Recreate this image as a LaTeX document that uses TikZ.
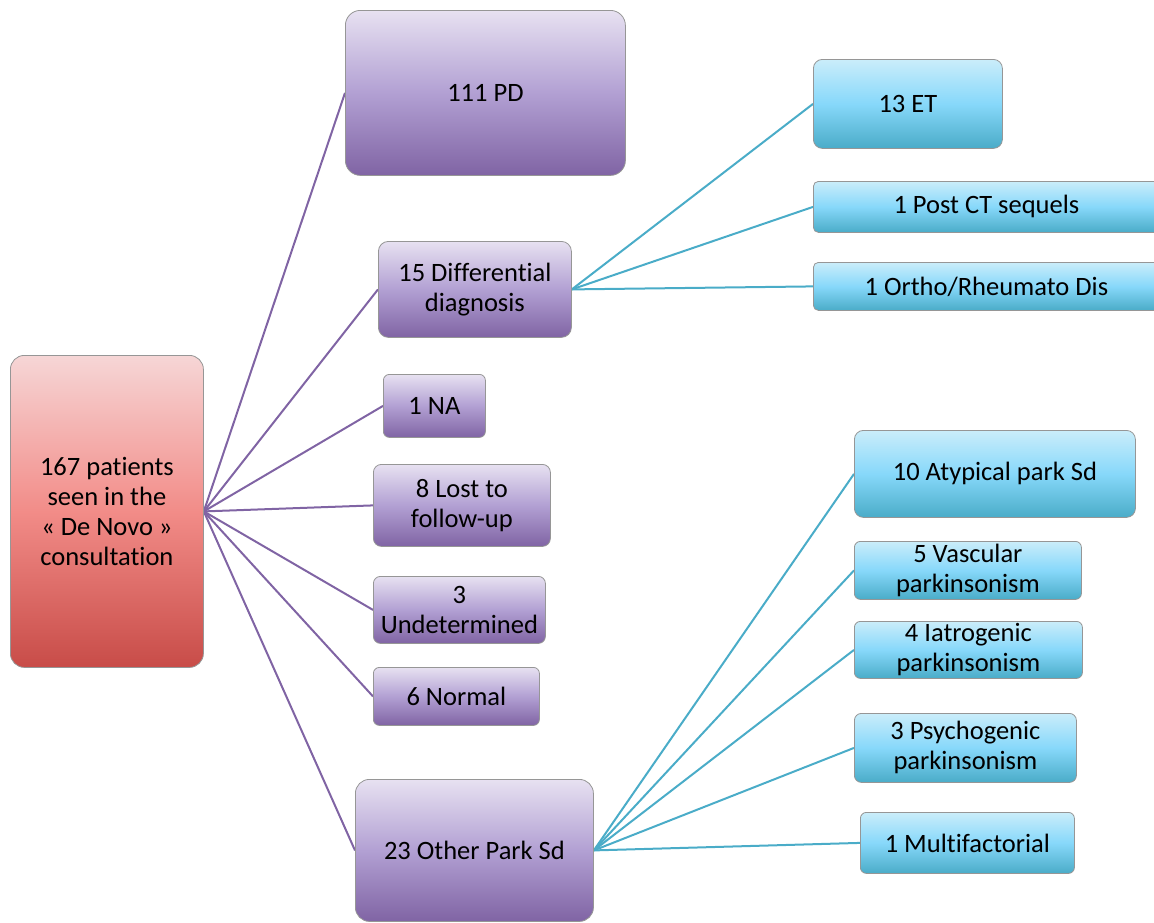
\documentclass[tikz,border=0pt]{standalone}
\usepackage{fontspec}
\setmainfont[Ligatures={NoCommon}]{Carlito}
\usetikzlibrary{backgrounds}
\definecolor{ptop}{RGB}{231,225,241}
\definecolor{pmid}{RGB}{178,160,211}
\definecolor{pbot}{RGB}{128,100,164}
\definecolor{rtop}{RGB}{246,214,214}
\definecolor{rmid}{RGB}{242,140,136}
\definecolor{rbot}{RGB}{200,76,72}
\definecolor{btop}{RGB}{202,237,250}
\definecolor{bmid}{RGB}{135,216,250}
\definecolor{bbot}{RGB}{74,172,200}
\definecolor{boxline}{RGB}{150,150,150}
\definecolor{plink}{RGB}{128,100,164}
\definecolor{blink}{RGB}{74,172,200}
\newcommand{\boxfont}{\fontsize{26.5}{30}\selectfont}
\tikzset{
  box/.style={draw=boxline, line width=0.8pt, inner sep=0pt, anchor=north west,
    align=center, font=\boxfont, rounded corners=12pt},
  pbox/.style={box, top color=ptop, bottom color=pbot, middle color=pmid},
  rbox/.style={box, top color=rtop, bottom color=rbot, middle color=rmid},
  bbox/.style={box, top color=btop, bottom color=bbot, middle color=bmid},
  plinkst/.style={draw=plink, line width=2pt},
  blinkst/.style={draw=blink, line width=2pt},
}
\begin{document}
\begin{tikzpicture}[x=1pt,y=-1pt]
\useasboundingbox (0,0) rectangle (1154,922);
\clip (0,0) rectangle (1154,922);
% root
\node[rbox, minimum width=193, minimum height=312, rounded corners=14pt] (root) at (10,355)
  {167 patients\\seen in the\\« De Novo »\\consultation};
% purple
\node[pbox, minimum width=280, minimum height=165, rounded corners=15pt] (pd) at (345,10) {111 PD};
\node[pbox, minimum width=193, minimum height=96, rounded corners=10pt] (diff) at (378,241) {15 Differential\\diagnosis};
\node[pbox, minimum width=102, minimum height=63, rounded corners=6pt] (na) at (383,374) {1 NA};
\node[pbox, minimum width=177, minimum height=82, rounded corners=8pt] (lost) at (373,464) {8 Lost to\\follow-up};
\node[pbox, minimum width=172, minimum height=67, rounded corners=7pt] (und) at (373,576) {3\\Undetermined};
\node[pbox, minimum width=166, minimum height=58, rounded corners=6pt] (norm) at (373,667) {6 Normal};
\node[pbox, minimum width=238, minimum height=142, rounded corners=14pt] (other) at (355,779) {23 Other Park Sd};
% blue, differential
\node[bbox, minimum width=189, minimum height=89, rounded corners=9pt] (et) at (813,59) {13 ET};
\node[bbox, minimum width=346, minimum height=51, rounded corners=5pt] (post) at (813,181) {1 Post CT sequels};
\node[bbox, minimum width=346, minimum height=48, rounded corners=5pt] (ortho) at (813,262) {1 Ortho/Rheumato Dis};
% blue, other park
\node[bbox, minimum width=281, minimum height=87, rounded corners=9pt] (atyp) at (854,430) {10 Atypical park Sd};
\node[bbox, minimum width=227, minimum height=58, rounded corners=6pt] (vasc) at (854,541) {5 Vascular\\parkinsonism};
\node[bbox, minimum width=228, minimum height=57, rounded corners=6pt] (iatr) at (854,621) {4 Iatrogenic\\parkinsonism};
\node[bbox, minimum width=222, minimum height=69, rounded corners=7pt] (psy) at (854,713) {3 Psychogenic\\parkinsonism};
\node[bbox, minimum width=214, minimum height=61, rounded corners=6pt] (multi) at (860,812) {1 Multifactorial};
\begin{scope}[on background layer]
  \foreach \t in {pd,diff,na,lost,und,norm,other}
    \draw[plinkst] (root.east) -- (\t.west);
  \foreach \t in {et,post,ortho}
    \draw[blinkst] (diff.east) -- (\t.west);
  \foreach \t in {atyp,vasc,iatr,psy,multi}
    \draw[blinkst] (other.east) -- (\t.west);
\end{scope}
\end{tikzpicture}
\end{document}
